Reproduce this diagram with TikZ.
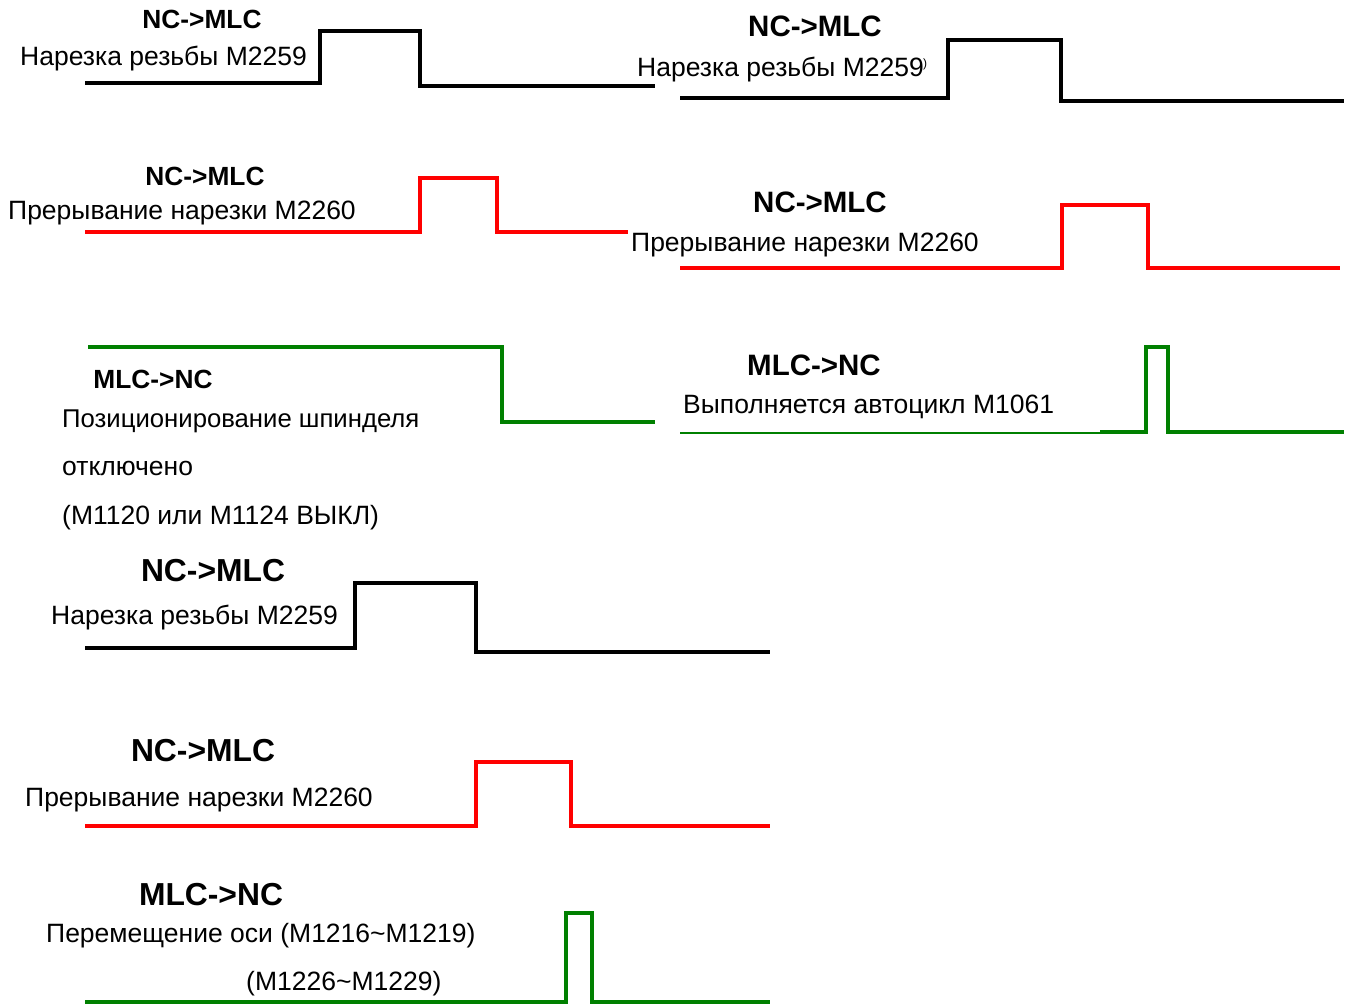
\documentclass[tikz,border=0pt]{standalone}
\usepackage{fontspec}
\setmainfont{Liberation Sans}
\definecolor{wred}{RGB}{255,0,0}
\definecolor{wgreen}{RGB}{0,128,0}
\begin{document}
\begin{tikzpicture}[x=1pt,y=-1pt,
  wave/.style={line width=4.4pt, line join=miter, line cap=butt},
  thinwave/.style={line width=2pt},
  ttl/.style={inner sep=0pt, anchor=base, font=\fontsize{26.3}{30}\selectfont\bfseries},
  ttlb/.style={inner sep=0pt, anchor=base, font=\fontsize{29.5}{34}\selectfont\bfseries},
  ttlc/.style={inner sep=0pt, anchor=base, font=\fontsize{31.8}{36}\selectfont\bfseries},
  body/.style={inner sep=0pt, anchor=base west, font=\fontsize{26.5}{30}\selectfont},
]
\useasboundingbox (0,0) rectangle (1346,1006);
\fill[white] (0,0) rectangle (1346,1006);

% ---- 1: top-left black
\draw[wave,black] (85,83) -- (320,83) -- (320,31) -- (420,31) -- (420,86) -- (655,86);
\node[ttl]  (t1) at (202,29) {NC->MLC};
\node[body] (b1) at (20,66) {Нарезка резьбы M2259};

% ---- 2: top-right black
\draw[wave,black] (680,98) -- (948,98) -- (948,40) -- (1061,40) -- (1061,101) -- (1344,101);
\node[ttlb] (t2) at (815,37) {NC->MLC};
\node[body] (b2) at (637,77) {Нарезка резьбы M2259};
\node[inner sep=0pt, anchor=base west, font=\fontsize{12}{14}\selectfont] (p2) at (923,68) {)};

% ---- 3: left red
\draw[wave,wred] (85,232) -- (420,232) -- (420,178) -- (497,178) -- (497,232) -- (628,232);
\node[ttl]  (t3) at (205,185) {NC->MLC};
\node[body] (b3) at (8,219) {Прерывание нарезки M2260};

% ---- 4: right red
\draw[wave,wred] (680,268) -- (1062,268) -- (1062,205) -- (1148,205) -- (1148,268) -- (1340,268);
\node[ttlb] (t4) at (820,212) {NC->MLC};
\node[body] (b4) at (631,251) {Прерывание нарезки M2260};

% ---- 5: left green
\draw[wave,wgreen] (88,347) -- (502,347) -- (502,422) -- (655,422);
\node[ttl]  (t5) at (153,388) {MLC->NC};
\node[body, font=\fontsize{25.7}{30}\selectfont] (b5a) at (62,427) {Позиционирование шпинделя};
\node[body] (b5b) at (62,475) {отключено};
\node[body] (b5c) at (62,524) {(M1120 или M1124 ВЫКЛ)};

% ---- 6: right green
\draw[thinwave,wgreen] (680,433) -- (1100,433);
\draw[wave,wgreen] (1100,432) -- (1146,432) -- (1146,347) -- (1168,347) -- (1168,432) -- (1344,432);
\node[ttlb] (t6) at (814,375) {MLC->NC};
\node[body] (b6) at (683,413) {Выполняется автоцикл M1061};

% ---- 7: black
\draw[wave,black] (85,648) -- (355,648) -- (355,583) -- (476,583) -- (476,652) -- (770,652);
\node[ttlc] (t7) at (213,581) {NC->MLC};
\node[body] (b7) at (51,624) {Нарезка резьбы M2259};

% ---- 8: red
\draw[wave,wred] (85,826) -- (476,826) -- (476,762) -- (571,762) -- (571,826) -- (770,826);
\node[ttlc] (t8) at (203,761) {NC->MLC};
\node[body] (b8) at (25,806) {Прерывание нарезки M2260};

% ---- 9: green
\draw[wave,wgreen] (85,1002) -- (566,1002) -- (566,913) -- (592,913) -- (592,1002) -- (770,1002);
\node[ttlc] (t9) at (211,905) {MLC->NC};
\node[body] (b9a) at (46,942) {Перемещение оси (M1216\textasciitilde M1219)};
\node[body] (b9b) at (246,990) {(M1226\textasciitilde M1229)};
\end{tikzpicture}
\end{document}
